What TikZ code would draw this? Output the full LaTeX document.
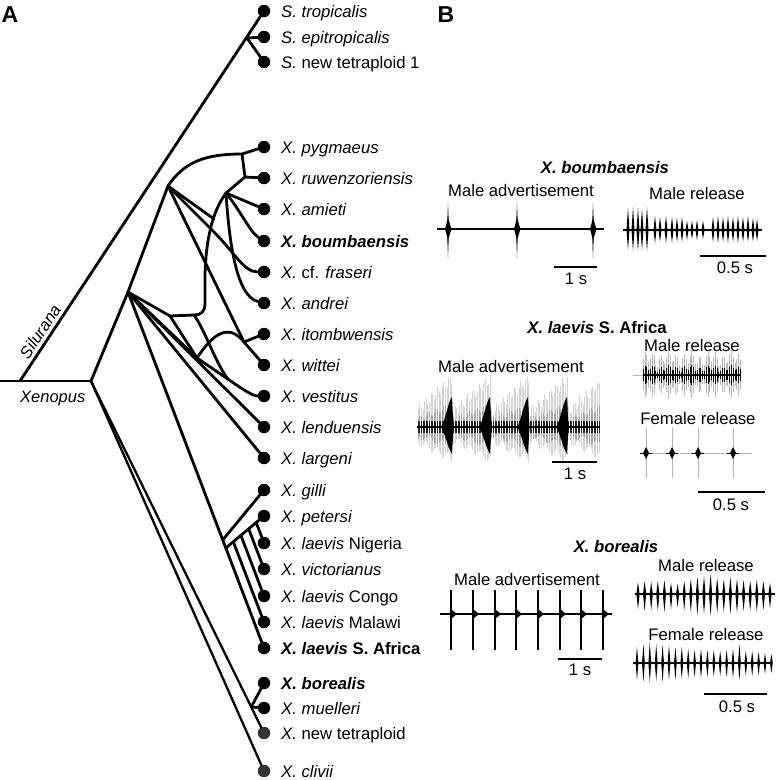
\documentclass[tikz,border=0pt]{standalone}
\usepackage{fontspec}
\setmainfont{Liberation Sans}
\begin{document}
\begin{tikzpicture}[x=1pt,y=-1pt,
  br/.style={line width=2.8pt, line cap=round, line join=round},
  tip/.style={circle, fill=black, inner sep=0pt, minimum size=12.5pt},
  tipg/.style={tip, fill=black!80},
  lab/.style={anchor=base west, inner sep=0pt, font=\fontsize{16.7}{19}\selectfont},
  txt/.style={inner sep=0pt, font=\fontsize{16.7}{19}\selectfont},
  ttl/.style={inner sep=0pt, font=\fontsize{16.7}{19}\selectfont\bfseries},
  panel/.style={inner sep=0pt, font=\fontsize{23}{26}\selectfont\bfseries},
  sbar/.style={line width=1.6pt},
]
\useasboundingbox (0,0) rectangle (779,780);

% ---------------- panel letters
\node[panel] (pA) at (10,15) {A};
\node[panel] (pB) at (446,15) {B};

% ---------------- tips
\foreach \n/\yy in {trop/11,epi/37,nt1/62,pyg/147,ruw/178,ami/209,boum/241,fras/272,andr/303,itom/334,witt/365,vest/396,lend/427,larg/458,gilli/490,pet/516,nig/543,vic/569,congo/596,malawi/622,safr/648,bor/683,muel/708}
  \node[tip] (\n) at (264,\yy) {};
\node[tipg] (ntet) at (264,733) {};
\node[tipg] (cliv) at (264,771) {};

% ---------------- tip labels
\node[lab] (Ltrop) at (281,17) {\textit{S. tropicalis}};
\node[lab] (Lepi) at (281,43) {\textit{S. epitropicalis}};
\node[lab] (Lnt1) at (281,68) {\textit{S.} new tetraploid 1};
\node[lab] (Lpyg) at (281,153) {\textit{X. pygmaeus}};
\node[lab] (Lruw) at (281,184) {\textit{X. ruwenzoriensis}};
\node[lab] (Lami) at (281,215) {\textit{X. amieti}};
\node[lab] (Lboum) at (281,247) {\textbf{\textit{X. boumbaensis}}};
\node[lab] (Lfras) at (281,278) {\textit{X.} cf. \textit{fraseri}};
\node[lab] (Landr) at (281,309) {\textit{X. andrei}};
\node[lab] (Litom) at (281,340) {\textit{X. itombwensis}};
\node[lab] (Lwitt) at (281,371) {\textit{X. wittei}};
\node[lab] (Lvest) at (281,402) {\textit{X. vestitus}};
\node[lab] (Llend) at (281,433) {\textit{X. lenduensis}};
\node[lab] (Llarg) at (281,464) {\textit{X. largeni}};
\node[lab] (Lgilli) at (281,496) {\textit{X. gilli}};
\node[lab] (Lpet) at (281,522) {\textit{X. petersi}};
\node[lab] (Lnig) at (281,549) {\textit{X. laevis} Nigeria};
\node[lab] (Lvic) at (281,575) {\textit{X. victorianus}};
\node[lab] (Lcongo) at (281,602) {\textit{X. laevis} Congo};
\node[lab] (Lmalawi) at (281,628) {\textit{X. laevis} Malawi};
\node[lab] (Lsafr) at (281,654) {\textbf{\textit{X. laevis} S. Africa}};
\node[lab] (Lbor) at (281,689) {\textbf{\textit{X. borealis}}};
\node[lab] (Lmuel) at (281,714) {\textit{X. muelleri}};
\node[lab] (Lntet) at (281,739) {\textit{X.} new tetraploid};
\node[lab] (Lcliv) at (281,777) {\textit{X. clivii}};

% ---------------- internal nodes
\coordinate (root) at (0,381);
\coordinate (S0) at (20,381);
\coordinate (X0) at (91,381);
\coordinate (S1) at (247,38);
\coordinate (U1) at (128,292);
\coordinate (U2) at (168,186);
\coordinate (P1) at (242,154);
\coordinate (P2) at (245,177);
\coordinate (N1) at (226,193);
\coordinate (R1) at (214,219);
\coordinate (H1) at (170,316);
\coordinate (H2) at (194,315);
\coordinate (V) at (197,358);
\coordinate (W) at (244,342);
\coordinate (M1) at (228,379.2);
\coordinate (G) at (222.7,540);
\coordinate (P0) at (225.8,548);
\coordinate (Lm) at (233.3,541.7);
\coordinate (Lc) at (240.9,535.4);
\coordinate (Lv) at (248.7,528.9);
\coordinate (Ln) at (256.2,522.5);
\coordinate (B0) at (251.3,707);

% ---------------- tree
\draw[br] (root) -- (X0);
\draw[br] (S0) -- (trop) node[pos=0.12, sloped, above, inner sep=3pt, font=\fontsize{16.5}{19}\selectfont\itshape] (silu) {Silurana};
\node[anchor=base west, inner sep=0pt, font=\fontsize{16.5}{19}\selectfont\itshape] (xeno) at (20,402) {Xenopus};
\draw[br] (S1) -- (epi);
\draw[br] (S1) -- (nt1);
\draw[br] (X0) -- (U1) -- (U2);
\draw[br] (U2) .. controls (184,162) and (205,154) .. (P1) -- (pyg);
\draw[br] (P1) -- (P2) -- (ruw);
\draw[br] (P2) -- (N1) -- (ami);
\draw[br] (N1) .. controls (240,210) and (250,232) .. (boum);
\draw[br] (N1) .. controls (229,240) and (236,296) .. (andr);
\draw[br] (N1) .. controls (212,212) and (206,240) .. (205,275) -- (205,303) .. controls (205,312) and (201,315) .. (H2) -- (H1);
\draw[br] (U1) -- (H1);
\draw[br] (U2) -- (R1);
\draw[br] (U2) -- (214,232) .. controls (234,252) and (244,272) .. (fras);
\draw[br] (U2) -- (W) -- (witt);
\draw[br] (W) -- (itom);
\draw[br] (U1) -- (V);
\draw[br] (H1) -- (V);
\draw[br] (V) .. controls (212,335) and (228,322) .. (W);
\draw[br] (V) -- (238,386) .. controls (247,392) and (254,396) .. (vest);
\draw[br] (H2) .. controls (205,330) and (215,362) .. (M1);
\draw[br] (U1) -- (lend);
\draw[br] (U1) -- (larg);
\draw[br] (U1) -- (safr);
\draw[br] (G) -- (gilli);
\draw[br] (P0) -- (pet);
\draw[br] (Ln) -- (nig);
\draw[br] (Lv) -- (vic);
\draw[br] (Lc) -- (congo);
\draw[br] (Lm) -- (malawi);
\draw[br, line width=2.3pt] (X0) -- (ntet);
\draw[br, line width=2.3pt] (X0) -- (cliv);
\draw[br] (B0) -- (bor);
\draw[br] (B0) -- (muel);

% ================= PANEL B =================
% ---- X. boumbaensis
\node[ttl] (t1) at (605,168) {\textit{X. boumbaensis}};
\node[txt] (t1a) at (521,191) {Male advertisement};
\node[txt] (t1b) at (697,194) {Male release};
\draw[line width=1.5pt] (437,229) -- (604,229);
\foreach \x in {448,517,593} {
  \fill (\x-1,229) -- (\x,203) -- (\x+1,229) -- (\x,258) -- cycle;
  \fill (\x-3,229) -- (\x,218) -- (\x+3.5,229) -- (\x,240) -- cycle;
}
\draw[line width=1.5pt] (623,230) -- (762,230);
\foreach \x/\ua/\dn in {628/22/20,633/23/21,638/22/21,642/21/20,647/23/21,655/14/13,660/13/12,666/14/13,672/13/13,677/12/12,682/13/12,687/9/10,692/9/9,697/10/10,703/9/9,713/13/12,718/14/13,723/13/12,728/14/13,733/13/12,738/14/13,743/13/12,748/14/12,753/12/12,757/11/11}
  \fill (\x-1.5,230) -- (\x,230-\ua) -- (\x+1.5,230) -- (\x,230+\dn) -- cycle;
\draw[sbar] (554,267) -- (597,267);
\node[txt] (s1a) at (576,279) {1 s};
\draw[sbar] (700,256) -- (766,256);
\node[txt] (s1b) at (735,268) {0.5 s};

% ---- X. laevis S. Africa
\node[ttl] (t2) at (597,328) {\textit{X. laevis} S. Africa};
\node[txt] (t2a) at (511,367) {Male advertisement};
\node[txt] (t2b) at (692,346) {Male release};
\node[txt] (t2c) at (698,419) {Female release};
\foreach \i in {0,...,113} {
  \pgfmathsetmacro\x{418+1.6*\i}
  \pgfmathsetmacro\phs{mod(\x-452+383,38.3)/38.3}
  \pgfmathsetmacro\ytop{427-(14+34*\phs+5*sin(\i*97))}
  \pgfmathsetmacro\ybot{427+(12+20*\phs+4*sin(\i*53))}
  \pgfmathsetmacro\mtop{427-0.45*(14+34*\phs)-3*sin(\i*71)}
  \pgfmathsetmacro\mbot{427+0.6*(12+20*\phs)+3*sin(\i*41)}
  \draw[gray!35, line width=0.6pt] (\x,\ytop) -- (\x,\ybot);
  \draw[gray!70, line width=0.6pt] (\x,\mtop) -- (\x,\mbot);
  \draw[black!85, line width=0.5pt] (\x,421) -- (\x,433);
}
\draw[line width=2pt] (417,427) -- (600,427);
\foreach \bx in {452,490,528,567}
  \fill (\bx-11,427) .. controls (\bx-7,422) and (\bx-4,402) .. (\bx,397) -- (\bx+1.5,427) -- (\bx,454) .. controls (\bx-4,448) and (\bx-7,433) .. cycle;
\draw[gray!60, line width=0.6pt] (633,375) -- (643,375);
\foreach \i in {0,...,54} {
  \pgfmathsetmacro\x{643+1.8*\i}
  \pgfmathsetmacro\amp{16+6*sin(\i*83)+3*sin(\i*31)}
  \pgfmathsetmacro\ytop{375-\amp}
  \pgfmathsetmacro\ybot{375+0.95*\amp}
  \pgfmathsetmacro\mtop{375-0.4*\amp}
  \pgfmathsetmacro\mbot{375+0.4*\amp}
  \draw[gray!55, line width=0.55pt] (\x,\ytop) -- (\x,\ybot);
  \draw[black, line width=0.6pt] (\x,\mtop) -- (\x,\mbot);
}
\draw[line width=1.8pt] (643,375) -- (741,375);
\draw[gray!60, line width=0.7pt] (640,453) -- (752,453);
\foreach \x in {646,672,698,733} {
  \draw[gray!60, line width=0.8pt] (\x,428) -- (\x,478);
  \draw[line width=1pt] (\x-6,453) -- (\x+6,453);
  \fill (\x-3,453) -- (\x,447) -- (\x+3,453) -- (\x,459) -- cycle;
}
\draw[sbar] (552,462) -- (597,462);
\node[txt] (s2a) at (575,474) {1 s};
\draw[sbar] (698,492) -- (765,492);
\node[txt] (s2b) at (731,505) {0.5 s};

% ---- X. borealis
\node[ttl] (t3) at (616,547) {\textit{X. borealis}};
\node[txt] (t3a) at (527,580) {Male advertisement};
\node[txt] (t3b) at (706,566) {Male release};
\node[txt] (t3c) at (706,635) {Female release};
\draw[line width=1.6pt] (440,614) -- (612,614);
\foreach \x in {451,473,495,516,538,560,581,603} {
  \draw[line width=2.2pt] (\x,590) -- (\x,650);
  \fill (\x,609) -- (\x+6,614) -- (\x,619) -- cycle;
}
\draw[line width=1.6pt] (635,594) -- (775,594);
\foreach \i/\ua/\dn in {0/12/15,1/13/17,2/12/16,3/13/17,4/14/18,5/11/15,6/10/13,7/13/16,8/15/18,9/17/21,10/18/20,11/20/22,12/16/19,13/15/18,14/17/20,15/15/19,16/14/17,17/13/17,18/14/18,19/13/16,20/11/14} {
  \pgfmathsetmacro\x{638+6.6*\i}
  \fill (\x-1.6,594) -- (\x,594-\ua) -- (\x+1.6,594) -- (\x,594+\dn) -- cycle;
}
\draw[line width=1.6pt] (633,663) -- (772,663);
\foreach \i/\ua/\dn in {0/16/17,1/19/19,2/21/19,3/19/18,4/18/19,5/18/17,6/16/17,7/16/16,8/14/15,9/13/14,10/14/15,11/13/14,12/13/14,13/12/13,14/13/14,15/14/15,16/19/17,17/12/13,18/12/13,19/11/12,20/10/11,21/9/10} {
  \pgfmathsetmacro\x{637+6.4*\i}
  \fill (\x-1.4,663) -- (\x,663-\ua) -- (\x+1.4,663) -- (\x,663+\dn) -- cycle;
}
\draw[sbar] (558,659) -- (602,659);
\node[txt] (s3a) at (580,670) {1 s};
\draw[sbar] (704,694) -- (767,694);
\node[txt] (s3b) at (737,707) {0.5 s};
\end{tikzpicture}
\end{document}
